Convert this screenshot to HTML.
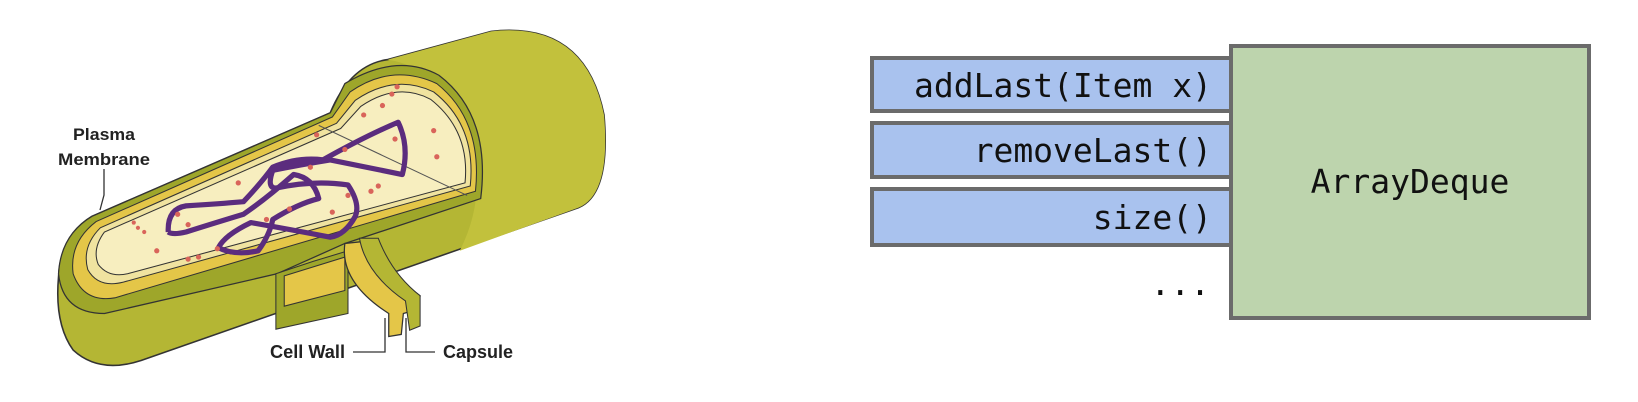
<!DOCTYPE html>
<html><head><meta charset="utf-8"><style>
html,body{margin:0;padding:0;background:#fff;width:1638px;height:402px;overflow:hidden;position:relative}
.b{position:absolute;left:870px;width:362px;background:#a9c2ee;border:4px solid #6b6b6b;box-sizing:border-box;border-right:none;font-family:"DejaVu Sans Mono","Liberation Mono",monospace;font-size:33px;text-align:right;padding-right:20px;color:#111}
.g{position:absolute;left:1229px;top:44px;width:362px;height:276px;background:#bdd4ad;border:4px solid #6b6b6b;box-sizing:border-box;font-family:"DejaVu Sans Mono","Liberation Mono",monospace;font-size:33px;color:#111;text-align:center;line-height:268px}
</style></head><body>
<svg width="640" height="402" style="position:absolute;left:0;top:0" font-family="Liberation Sans, sans-serif" font-weight="bold">
<g transform="scale(1.045)">
<path d="M316,108 Q335,62 371,57 L470,30 Q560,20 578,110 Q585,190 550,200 L135,345 Q95,358 70,335 Q52,310 56,265 Q58,225 88,207 Z" fill="#b4b634" stroke="#333" stroke-width="1.5"/>
<path d="M371,57 L470,30 Q560,20 578,110 Q585,190 550,200 L440,240 Q470,180 445,120 Q420,65 371,57Z" fill="#c2c13c"/>
<path d="M316,108 L88,207 Q58,225 56,262 Q60,300 100,300 L265,262 L330,233 L460,190 Q470,110 420,72 Q380,50 330,80 Z" fill="#9ea62a" stroke="#333" stroke-width="1.2"/>
<path d="M318,112 L92,212 Q66,232 70,262 Q80,290 110,285 L455,183 Q462,115 418,80 Q375,60 335,88 Z" fill="#e4c648" stroke="#333" stroke-width="1"/>
<path d="M322,118 L96,218 Q78,236 84,258 Q94,276 118,270 L450,178 Q456,120 415,88 Q378,70 340,96 Z" fill="#f0e3a0" stroke="#333" stroke-width="1"/>
<path d="M326,123 L100,222 Q88,238 94,253 Q104,266 122,262 L445,175 Q450,125 412,95 Q380,78 345,102 Z" fill="#f7eebf" stroke="#333" stroke-width="1"/>
<line x1="305" y1="120" x2="447" y2="187" stroke="#555" stroke-width="1"/>
<path d="M264,262 L300,250 L333,240 L333,300 L264,315 Z" fill="#9ea62a" stroke="#333" stroke-width="1"/>
<path d="M272,264 L330,246 L330,278 L272,293 Z" fill="#e4c648" stroke="#333" stroke-width="1"/>
<path d="M330,233 Q325,270 372,300 L372,322 L384,320 L386,300 L400,296 L402,283 Q370,260 358,230 Z" fill="#e4c648" stroke="#333" stroke-width="1.2"/>
<path d="M344,228 Q350,262 388,288 L392,316 L402,312 L402,283 Q375,262 362,228 Z" fill="#b4b634" stroke="#333" stroke-width="1"/>
<path d="M161,222 Q160,200 178,197 Q210,195 233,193 Q250,175 261,160 Q285,150 309,153 Q350,130 381,117 Q392,140 385,167 Q350,160 316,153 Q285,158 261,163 Q255,180 264,180 Q300,172 333,177 Q345,195 340,207 Q330,225 316,227 Q280,220 240,213 Q215,225 209,237 Q225,245 247,240 Q258,225 261,210 Q285,195 305,190 Q300,170 281,167 Q255,190 233,205 Q200,215 178,222 Q165,225 161,222" fill="none" stroke="#5b2c7e" stroke-width="5" stroke-linejoin="round"/>
<g fill="#d9645a">
<circle cx="170" cy="205" r="2.5"/><circle cx="180" cy="215" r="2.5"/><circle cx="128" cy="213" r="2"/><circle cx="132" cy="218" r="2"/><circle cx="138" cy="222" r="2"/><circle cx="150" cy="240" r="2.5"/><circle cx="180" cy="248" r="2.5"/><circle cx="190" cy="246" r="2.5"/><circle cx="208" cy="238" r="2.5"/><circle cx="228" cy="175" r="2.5"/><circle cx="255" cy="210" r="2.5"/><circle cx="277" cy="200" r="2.5"/><circle cx="318" cy="203" r="2.5"/><circle cx="333" cy="187" r="2.5"/><circle cx="355" cy="183" r="2.5"/><circle cx="362" cy="178" r="2.5"/><circle cx="330" cy="143" r="2.5"/><circle cx="348" cy="110" r="2.5"/><circle cx="366" cy="101" r="2.5"/><circle cx="375" cy="90" r="2.5"/><circle cx="380" cy="83" r="2.5"/><circle cx="378" cy="133" r="2.5"/><circle cx="418" cy="150" r="2.5"/><circle cx="415" cy="125" r="2.5"/><circle cx="303" cy="129" r="2.5"/><circle cx="297" cy="160" r="2.5"/>
</g>
</g>
<text x="104" y="140" font-size="17" text-anchor="middle" fill="#222" textLength="62" lengthAdjust="spacingAndGlyphs">Plasma</text>
<text x="104" y="165" font-size="17" text-anchor="middle" fill="#222" textLength="92" lengthAdjust="spacingAndGlyphs">Membrane</text>
<polyline points="104,169 104,195 100,210" fill="none" stroke="#333" stroke-width="1.3"/>
<text x="270" y="358" font-size="18" fill="#222" textLength="75" lengthAdjust="spacingAndGlyphs">Cell Wall</text>
<polyline points="353,352 385,352 385,318" fill="none" stroke="#333" stroke-width="1.3"/>
<polyline points="435,352 406,352 406,318" fill="none" stroke="#333" stroke-width="1.3"/>
<text x="443" y="358" font-size="18" fill="#222" textLength="70" lengthAdjust="spacingAndGlyphs">Capsule</text>
</svg>
<div class="b" style="top:56px;height:57px;line-height:51px">addLast(Item x)</div>
<div class="b" style="top:121px;height:58px;line-height:52px">removeLast()</div>
<div class="b" style="top:187px;height:60px;line-height:54px">size()</div>
<div style="position:absolute;left:1130px;top:264px;width:80px;text-align:right;font-family:'DejaVu Sans Mono',monospace;font-size:33px;color:#111">...</div>
<div class="g">ArrayDeque</div>
</body></html>
